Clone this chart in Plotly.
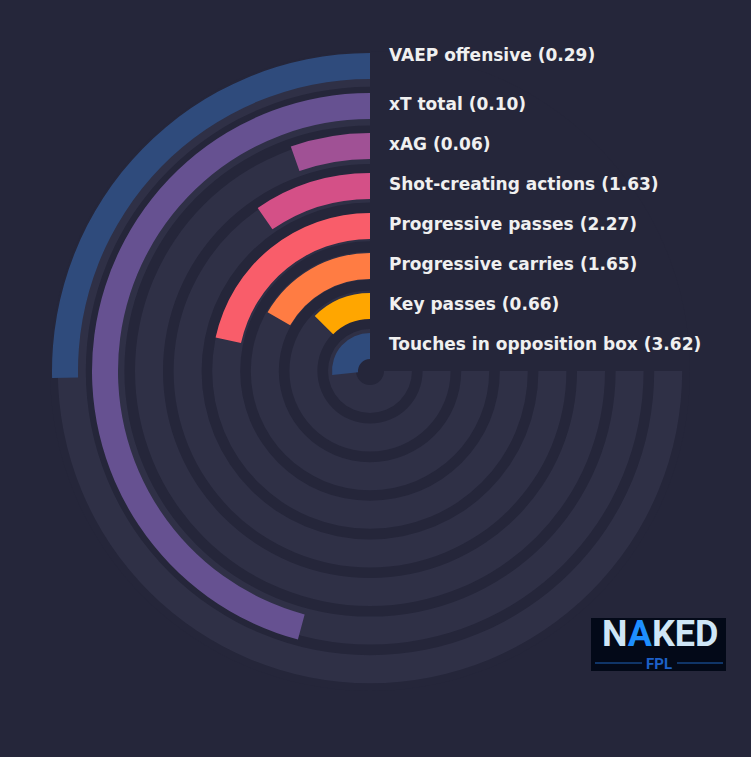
import plotly.graph_objects as go

# inner ring first
labels = ["Touches in opposition box", "Key passes", "Progressive carries",
          "Progressive passes", "Shot-creating actions", "xAG", "xT total",
          "VAEP offensive"]
values = [3.62, 0.66, 1.65, 2.27, 1.63, 0.06, 0.10, 0.29]
# share of the full 270 degree ring (%)
scores = [35.6, 16.7, 22.3, 28.8, 12.8, 7.2, 61.1, 33.8]
colors = ["#2f4b7c", "#ffa600", "#ff7c43", "#f95d6a", "#d45087",
          "#a05195", "#665191", "#2f4b7c"]

W, H = 751, 757
BG = "#25263a"
TRACK = "#2f3046"
FULL = 270

def px(x):
    return x / W

def py(y):
    return 1 - y / H

fig = go.Figure()

n = len(labels)
track_base = [14 + 38.6 * i for i in range(n)]
bar_base = [12 + 40 * i for i in range(n)]

# background tracks
fig.add_trace(go.Barpolar(
    r=[28] * n,
    base=track_base,
    theta=[FULL / 2] * n,
    width=[FULL] * n,
    marker=dict(color=TRACK, line=dict(width=0)),
    hoverinfo="skip",
))

# value bars
angles = [s / 100 * FULL for s in scores]
fig.add_trace(go.Barpolar(
    r=[26] * n,
    base=bar_base,
    theta=[a / 2 for a in angles],
    width=angles,
    marker=dict(color=colors, line=dict(width=0)),
    text=labels,
    hovertemplate="%{text}<extra></extra>",
))

# labels next to the start of each ring
annotations = []
cy = 371
for i, (lab, val) in enumerate(zip(labels, values)):
    y = cy - (bar_base[i] + 13) - 2
    if i == n - 1:
        y -= 9
    annotations.append(dict(
        x=px(387), y=py(y), xref="paper", yref="paper",
        xanchor="left", yanchor="middle", showarrow=False,
        text=f"{lab} ({val:.2f})",
        font=dict(family="DejaVu Sans", size=17, color="#f0f0f0", weight="bold"),
    ))

# logo
annotations.append(dict(
    x=px(660), y=py(634), xref="paper", yref="paper", showarrow=False,
    xanchor="center", yanchor="middle",
    text="N<span style='color:#1e8fff'>A</span>KED",
    font=dict(family="Roboto", size=36, color="#cfe6f7", weight="bold"),
))
annotations.append(dict(
    x=px(659), y=py(664), xref="paper", yref="paper", showarrow=False,
    xanchor="center", yanchor="middle", text="FPL",
    font=dict(family="Roboto", size=15, color="#1d60c8", weight="bold"),
))

shapes = [
    dict(type="rect", xref="paper", yref="paper",
         x0=px(591), x1=px(726), y0=py(671), y1=py(618),
         fillcolor="#030918", line=dict(width=0), layer="below"),
    dict(type="line", xref="paper", yref="paper",
         x0=px(595), x1=px(642), y0=py(663), y1=py(663),
         line=dict(color="#1f62b8", width=1)),
    dict(type="line", xref="paper", yref="paper",
         x0=px(677), x1=px(723), y0=py(663), y1=py(663),
         line=dict(color="#1f62b8", width=1)),
]

fig.update_layout(
    width=W, height=H,
    margin=dict(l=0, r=0, t=0, b=0),
    paper_bgcolor=BG,
    plot_bgcolor=BG,
    showlegend=False,
    polar=dict(
        domain=dict(x=[px(50), px(690)], y=[py(691), py(51)]),
        bgcolor=BG,
        hole=0,
        radialaxis=dict(range=[0, 320], visible=False, showgrid=False),
        angularaxis=dict(rotation=90, direction="counterclockwise",
                         visible=False, showgrid=False),
    ),
    annotations=annotations,
    shapes=shapes,
)

# drop the default page margin so the figure fills the window
fig.write_html("out.html",
               config={"displayModeBar": False},
               post_script="document.body.style.margin='0';document.body.style.background='%s';" % BG)
